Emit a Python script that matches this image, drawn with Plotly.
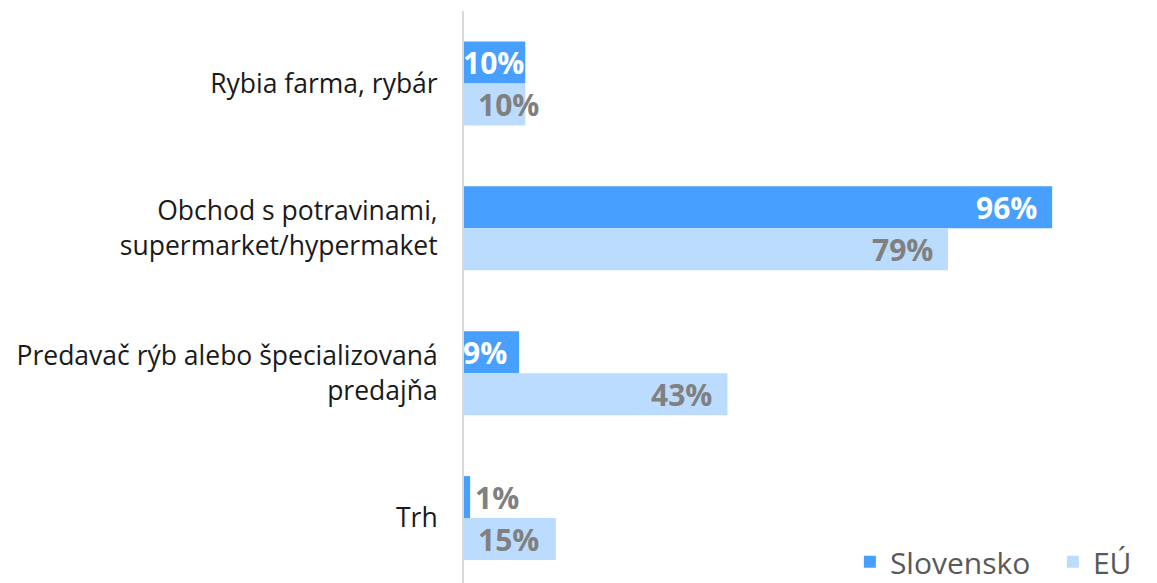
import plotly.graph_objects as go

categories = ["Rybia farma, rybár", "Obchod s potravinami,<br>supermarket/hypermaket",
              "Predavač rýb alebo špecializovaná<br>predajňa", "Trh"]
series_names = ["Slovensko", "EÚ"]
slovensko = [10, 96, 9, 1]
eu = [10, 79, 43, 15]

colors = ["#47a0ff", "#bcdcff"]
FONT = "Open Sans"

fig = go.Figure()
for name, vals, col in zip(series_names, [slovensko, eu], colors):
    fig.add_trace(go.Bar(y=categories, x=vals, name=name, orientation="h",
                         marker=dict(color=col, line=dict(width=0)),
                         hoverinfo="x+y"))

annotations = []
for si, vals in enumerate([slovensko, eu]):
    offset = -0.5 * 0.58 / 2 if si == 0 else 0.5 * 0.58 / 2
    for ci, v in enumerate(vals):
        small = v < 20
        if si == 0:
            color = "#ffffff" if v >= 5 else "#808080"
        else:
            color = "#808080"
        if small:
            xa = "left"
            xs = ((-3 if v >= 5 else 9) if si == 0 else 12)
            xpos = 0
        else:
            xa, xs = "right", -13
            xpos = v
        annotations.append(dict(
            x=xpos, y=ci + offset, xref="x", yref="y", text=f"<b>{v}%</b>",
            showarrow=False, xanchor=xa, xshift=xs, yanchor="middle",
            font=dict(family=FONT, size=30, color=color)))

fig.update_layout(
    width=1149, height=575,
    margin=dict(l=456, r=16, t=3, b=0, autoexpand=False),
    paper_bgcolor="white", plot_bgcolor="white",
    barmode="group", bargap=0.42, bargroupgap=0,
    font=dict(family=FONT, size=26.5, color="#1a1a1a"),
    xaxis=dict(range=[0, 110.5], visible=False, automargin=False),
    yaxis=dict(type="category", range=[3.448, -0.5], showline=True,
               linecolor="#d9d9d9", linewidth=2, ticks="", showgrid=False,
               automargin=False,
               ticklabelstandoff=19, tickfont=dict(size=26.5, color="#1a1a1a")),
    legend=dict(orientation="h", x=0.57, xanchor="left", y=0.037, yanchor="middle",
                font=dict(size=30, color="#595959"), itemwidth=30,
                entrywidth=158, entrywidthmode="pixels",
                traceorder="normal", bgcolor="rgba(0,0,0,0)"),
    annotations=annotations,
    showlegend=True,
)

fig.write_html("out.html")
